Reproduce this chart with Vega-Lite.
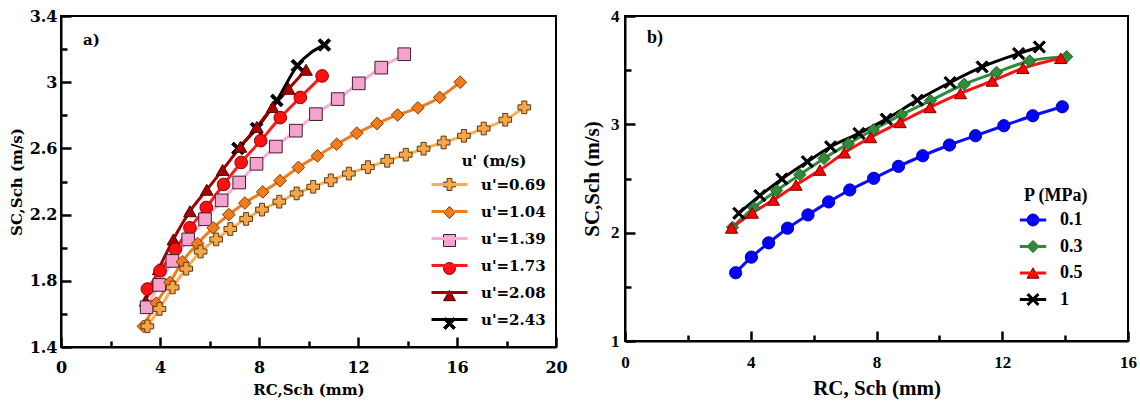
{
  "$schema": "https://vega.github.io/schema/vega-lite/v6.json",
  "background": "white",
  "padding": {"left": 8, "top": 6, "right": 6, "bottom": 4},
  "spacing": 11,
  "config": {
    "view": {"stroke": "black", "strokeWidth": 2},
    "axis": {"domainColor": "black", "domainWidth": 2, "tickColor": "black", "tickWidth": 2.5, "labelColor": "black", "titleColor": "black", "labelFontWeight": "bold", "titleFontWeight": "bold", "grid": false}
  },
  "datasets": {
    "a": [
      {"u": "u'=2.43", "R": 7.15, "S": 2.6}, {"u": "u'=2.43", "R": 7.9, "S": 2.72}, {"u": "u'=2.43", "R": 8.72, "S": 2.89}, {"u": "u'=2.43", "R": 9.55, "S": 3.1}, {"u": "u'=2.43", "R": 10.64, "S": 3.225},
      {"u": "u'=2.08", "R": 3.42, "S": 1.68}, {"u": "u'=2.08", "R": 3.95, "S": 1.87}, {"u": "u'=2.08", "R": 4.54, "S": 2.05}, {"u": "u'=2.08", "R": 5.21, "S": 2.22}, {"u": "u'=2.08", "R": 5.89, "S": 2.35}, {"u": "u'=2.08", "R": 6.53, "S": 2.47}, {"u": "u'=2.08", "R": 7.25, "S": 2.61}, {"u": "u'=2.08", "R": 7.91, "S": 2.73}, {"u": "u'=2.08", "R": 8.55, "S": 2.85}, {"u": "u'=2.08", "R": 9.2, "S": 2.96}, {"u": "u'=2.08", "R": 9.9, "S": 3.075},
      {"u": "u'=1.73", "R": 3.49, "S": 1.75}, {"u": "u'=1.73", "R": 4.0, "S": 1.86}, {"u": "u'=1.73", "R": 4.62, "S": 1.99}, {"u": "u'=1.73", "R": 5.21, "S": 2.12}, {"u": "u'=1.73", "R": 5.87, "S": 2.243}, {"u": "u'=1.73", "R": 6.57, "S": 2.382}, {"u": "u'=1.73", "R": 7.28, "S": 2.515}, {"u": "u'=1.73", "R": 8.07, "S": 2.647}, {"u": "u'=1.73", "R": 8.86, "S": 2.786}, {"u": "u'=1.73", "R": 9.67, "S": 2.908}, {"u": "u'=1.73", "R": 10.55, "S": 3.038},
      {"u": "u'=1.39", "R": 3.46, "S": 1.64}, {"u": "u'=1.39", "R": 3.97, "S": 1.775}, {"u": "u'=1.39", "R": 4.5, "S": 1.92}, {"u": "u'=1.39", "R": 5.14, "S": 2.05}, {"u": "u'=1.39", "R": 5.82, "S": 2.172}, {"u": "u'=1.39", "R": 6.49, "S": 2.286}, {"u": "u'=1.39", "R": 7.2, "S": 2.394}, {"u": "u'=1.39", "R": 7.9, "S": 2.507}, {"u": "u'=1.39", "R": 8.68, "S": 2.611}, {"u": "u'=1.39", "R": 9.49, "S": 2.707}, {"u": "u'=1.39", "R": 10.3, "S": 2.807}, {"u": "u'=1.39", "R": 11.18, "S": 2.898}, {"u": "u'=1.39", "R": 12.03, "S": 2.993}, {"u": "u'=1.39", "R": 12.94, "S": 3.088}, {"u": "u'=1.39", "R": 13.87, "S": 3.169},
      {"u": "u'=1.04", "R": 3.33, "S": 1.525}, {"u": "u'=1.04", "R": 3.85, "S": 1.665}, {"u": "u'=1.04", "R": 4.4, "S": 1.79}, {"u": "u'=1.04", "R": 4.9, "S": 1.915}, {"u": "u'=1.04", "R": 5.52, "S": 2.025}, {"u": "u'=1.04", "R": 6.15, "S": 2.12}, {"u": "u'=1.04", "R": 6.78, "S": 2.2}, {"u": "u'=1.04", "R": 7.43, "S": 2.27}, {"u": "u'=1.04", "R": 8.15, "S": 2.337}, {"u": "u'=1.04", "R": 8.85, "S": 2.405}, {"u": "u'=1.04", "R": 9.59, "S": 2.485}, {"u": "u'=1.04", "R": 10.36, "S": 2.555}, {"u": "u'=1.04", "R": 11.14, "S": 2.625}, {"u": "u'=1.04", "R": 11.95, "S": 2.692}, {"u": "u'=1.04", "R": 12.77, "S": 2.75}, {"u": "u'=1.04", "R": 13.6, "S": 2.802}, {"u": "u'=1.04", "R": 14.42, "S": 2.845}, {"u": "u'=1.04", "R": 15.3, "S": 2.908}, {"u": "u'=1.04", "R": 16.13, "S": 3.0},
      {"u": "u'=0.69", "R": 3.49, "S": 1.525}, {"u": "u'=0.69", "R": 3.98, "S": 1.63}, {"u": "u'=0.69", "R": 4.51, "S": 1.76}, {"u": "u'=0.69", "R": 5.06, "S": 1.873}, {"u": "u'=0.69", "R": 5.64, "S": 1.977}, {"u": "u'=0.69", "R": 6.27, "S": 2.05}, {"u": "u'=0.69", "R": 6.84, "S": 2.113}, {"u": "u'=0.69", "R": 7.48, "S": 2.174}, {"u": "u'=0.69", "R": 8.12, "S": 2.23}, {"u": "u'=0.69", "R": 8.82, "S": 2.278}, {"u": "u'=0.69", "R": 9.52, "S": 2.328}, {"u": "u'=0.69", "R": 10.19, "S": 2.368}, {"u": "u'=0.69", "R": 10.9, "S": 2.407}, {"u": "u'=0.69", "R": 11.63, "S": 2.448}, {"u": "u'=0.69", "R": 12.4, "S": 2.487}, {"u": "u'=0.69", "R": 13.18, "S": 2.525}, {"u": "u'=0.69", "R": 13.93, "S": 2.562}, {"u": "u'=0.69", "R": 14.65, "S": 2.598}, {"u": "u'=0.69", "R": 15.46, "S": 2.636}, {"u": "u'=0.69", "R": 16.28, "S": 2.676}, {"u": "u'=0.69", "R": 17.08, "S": 2.72}, {"u": "u'=0.69", "R": 17.95, "S": 2.773}, {"u": "u'=0.69", "R": 18.72, "S": 2.848}
    ],
    "b": [
      {"P": "0.3", "R": 3.42, "S": 2.05}, {"P": "0.3", "R": 4.1, "S": 2.23}, {"P": "0.3", "R": 4.82, "S": 2.39}, {"P": "0.3", "R": 5.56, "S": 2.535}, {"P": "0.3", "R": 6.33, "S": 2.685}, {"P": "0.3", "R": 7.1, "S": 2.82}, {"P": "0.3", "R": 7.9, "S": 2.95}, {"P": "0.3", "R": 8.8, "S": 3.09}, {"P": "0.3", "R": 9.72, "S": 3.22}, {"P": "0.3", "R": 10.79, "S": 3.37}, {"P": "0.3", "R": 11.82, "S": 3.48}, {"P": "0.3", "R": 12.87, "S": 3.585}, {"P": "0.3", "R": 14.05, "S": 3.625},
      {"P": "0.5", "R": 3.39, "S": 2.044}, {"P": "0.5", "R": 4.05, "S": 2.182}, {"P": "0.5", "R": 4.72, "S": 2.302}, {"P": "0.5", "R": 5.44, "S": 2.44}, {"P": "0.5", "R": 6.2, "S": 2.578}, {"P": "0.5", "R": 6.98, "S": 2.738}, {"P": "0.5", "R": 7.81, "S": 2.879}, {"P": "0.5", "R": 8.75, "S": 3.018}, {"P": "0.5", "R": 9.7, "S": 3.156}, {"P": "0.5", "R": 10.67, "S": 3.285}, {"P": "0.5", "R": 11.68, "S": 3.401}, {"P": "0.5", "R": 12.66, "S": 3.518}, {"P": "0.5", "R": 13.86, "S": 3.61},
      {"P": "1", "R": 3.62, "S": 2.179}, {"P": "1", "R": 4.29, "S": 2.342}, {"P": "1", "R": 4.99, "S": 2.496}, {"P": "1", "R": 5.8, "S": 2.655}, {"P": "1", "R": 6.54, "S": 2.793}, {"P": "1", "R": 7.44, "S": 2.916}, {"P": "1", "R": 8.31, "S": 3.048}, {"P": "1", "R": 9.3, "S": 3.223}, {"P": "1", "R": 10.34, "S": 3.386}, {"P": "1", "R": 11.36, "S": 3.53}, {"P": "1", "R": 12.52, "S": 3.653}, {"P": "1", "R": 13.18, "S": 3.714},
      {"P": "0.1", "R": 3.52, "S": 1.63}, {"P": "0.1", "R": 4.02, "S": 1.774}, {"P": "0.1", "R": 4.57, "S": 1.906}, {"P": "0.1", "R": 5.17, "S": 2.041}, {"P": "0.1", "R": 5.82, "S": 2.164}, {"P": "0.1", "R": 6.48, "S": 2.284}, {"P": "0.1", "R": 7.15, "S": 2.394}, {"P": "0.1", "R": 7.91, "S": 2.502}, {"P": "0.1", "R": 8.7, "S": 2.612}, {"P": "0.1", "R": 9.47, "S": 2.71}, {"P": "0.1", "R": 10.32, "S": 2.809}, {"P": "0.1", "R": 11.15, "S": 2.895}, {"P": "0.1", "R": 12.05, "S": 2.987}, {"P": "0.1", "R": 12.97, "S": 3.079}, {"P": "0.1", "R": 13.91, "S": 3.162}
    ]
  },
  "hconcat": [
    {
      "width": 495,
      "height": 331,
      "data": {"name": "a"},
      "title": {"text": "a)", "anchor": "start", "frame": "group", "offset": -40, "dx": 22, "font": "DejaVu Serif", "fontSize": 15, "fontWeight": "bold", "color": "black"},
      "encoding": {
        "x": {"field": "R", "type": "quantitative", "scale": {"domain": [0, 20], "nice": false, "zero": false},
          "axis": {"title": "RC,Sch  (mm)", "values": [0, 2, 4, 6, 8, 10, 12, 14, 16, 18, 20], "labelExpr": "datum.value % 4 == 0 ? datum.label : ''", "tickSize": {"condition": {"test": "datum.value % 4 == 0", "value": -10}, "value": -6}, "labelPadding": 22, "labelFont": "DejaVu Serif", "labelFontSize": 16, "titleFont": "DejaVu Serif", "titleFontSize": 15, "titlePadding": 3, "labelFlush": false, "labelOverlap": false}},
        "y": {"field": "S", "type": "quantitative", "scale": {"domain": [1.4, 3.4], "nice": false, "zero": false},
          "axis": {"title": "SC,Sch (m/s)", "values": [1.4, 1.6, 1.8, 2.0, 2.2, 2.4, 2.6, 2.8, 3.0, 3.2, 3.4], "labelExpr": "round(datum.value*10) % 4 == 2 ? format(datum.value, '') : ''", "tickSize": {"condition": {"test": "round(datum.value*10) % 4 == 2", "value": -10}, "value": -6}, "labelPadding": 14, "labelFont": "DejaVu Serif", "labelFontSize": 16, "titleFont": "DejaVu Serif", "titleFontSize": 15, "titlePadding": 5, "labelFlush": false, "labelOverlap": false}}
      },
      "layer": [
        {
          "mark": {"type": "line", "strokeWidth": 3, "interpolate": "monotone"},
          "encoding": {
            "color": {"field": "u", "type": "nominal",
              "scale": {"domain": ["u'=0.69", "u'=1.04", "u'=1.39", "u'=1.73", "u'=2.08", "u'=2.43"], "range": ["#F9AE55", "#F07C1E", "#F7AED2", "#FF1A1A", "#A00000", "#000000"]},
              "legend": {"title": "u' (m/s)", "orient": "none", "legendX": 381, "legendY": 138, "padding": 0, "symbolType": "M-3,0L3,0", "symbolSize": 144, "symbolStrokeWidth": 3, "labelOffset": 24, "rowPadding": 11, "titlePadding": 8, "titleAnchor": "middle", "labelFont": "DejaVu Serif", "labelFontWeight": "bold", "labelFontSize": 15, "labelColor": "black", "titleFont": "DejaVu Serif", "titleFontWeight": "bold", "titleFontSize": 15, "titleColor": "black"}}
          }
        },
        {
          "mark": {"type": "point", "filled": true, "size": 160, "strokeWidth": 1, "opacity": 1},
          "encoding": {
            "shape": {"field": "u", "type": "nominal", "scale": {"range": ["cross", "diamond", "square", "circle", "triangle-up", "M-1,-0.65L-0.65,-1L0,-0.35L0.65,-1L1,-0.65L0.35,0L1,0.65L0.65,1L0,0.35L-0.65,1L-1,0.65L-0.35,0Z"]},
              "legend": {"title": " ", "orient": "none", "legendX": 381, "legendY": 138, "padding": 0, "symbolSize": 144, "symbolStrokeWidth": 1, "labelOffset": 24, "rowPadding": 11, "titlePadding": 8, "titleAnchor": "middle", "labelFont": "DejaVu Serif", "labelFontWeight": "bold", "labelFontSize": 15, "labelExpr": "''", "titleFont": "DejaVu Serif", "titleFontWeight": "bold", "titleFontSize": 15}},
            "fill": {"field": "u", "type": "nominal", "scale": {"range": ["#F7A54A", "#F07C1E", "#F5A3CC", "#FF1010", "#A80000", "#000000"]}},
            "stroke": {"field": "u", "type": "nominal", "scale": {"range": ["#5C3A10", "#8A3C00", "#3A2030", "#900000", "#500000", "#000000"]}}
          }
        }
      ],
      "resolve": {"legend": {"color": "independent"}}
    },
    {
      "width": 503,
      "height": 325,
      "data": {"name": "b"},
      "title": {"text": "b)", "anchor": "start", "frame": "group", "offset": -40, "dx": 22, "font": "Liberation Serif", "fontSize": 18, "fontWeight": "bold", "color": "black"},
      "encoding": {
        "x": {"field": "R", "type": "quantitative", "scale": {"domain": [0, 16], "nice": false, "zero": false},
          "axis": {"title": "RC, Sch (mm)", "values": [0, 2, 4, 6, 8, 10, 12, 14, 16], "labelExpr": "datum.value % 4 == 0 ? datum.label : ''", "tickSize": {"condition": {"test": "datum.value % 4 == 0", "value": -10}, "value": -6}, "labelPadding": 23, "labelFont": "Liberation Serif", "labelFontSize": 17, "titleFont": "Liberation Serif", "titleFontSize": 21, "titlePadding": 3, "labelFlush": false, "labelOverlap": false}},
        "y": {"field": "S", "type": "quantitative", "scale": {"domain": [1, 4], "nice": false, "zero": false},
          "axis": {"title": "SC,Sch (m/s)", "values": [1, 1.5, 2, 2.5, 3, 3.5, 4], "labelExpr": "datum.value % 1 == 0 ? format(datum.value, '') : ''", "tickSize": {"condition": {"test": "datum.value % 1 == 0", "value": -10}, "value": -6}, "labelPadding": 16, "labelFont": "Liberation Serif", "labelFontSize": 17, "titleFont": "Liberation Serif", "titleFontSize": 21, "titlePadding": 8, "labelFlush": false, "labelOverlap": false}}
      },
      "layer": [
        {
          "mark": {"type": "line", "strokeWidth": 3, "interpolate": "monotone"},
          "encoding": {
            "color": {"field": "P", "type": "nominal",
              "scale": {"domain": ["0.1", "0.3", "0.5", "1"], "range": ["#0A0AFF", "#2E8B3A", "#FF1010", "#000000"]},
              "legend": {"title": "P (MPa)", "orient": "none", "legendX": 399, "legendY": 171, "padding": 0, "symbolType": "M-2.2,0L2.2,0", "symbolSize": 144, "symbolStrokeWidth": 3, "labelOffset": 18, "rowPadding": 8.5, "titlePadding": 6, "titleAnchor": "start", "labelFont": "Liberation Serif", "labelFontWeight": "bold", "labelFontSize": 18, "labelColor": "black", "titleFont": "Liberation Serif", "titleFontWeight": "bold", "titleFontSize": 18, "titleColor": "black"}}
          }
        },
        {
          "mark": {"type": "point", "filled": true, "size": 150, "strokeWidth": 1, "opacity": 1},
          "encoding": {
            "shape": {"field": "P", "type": "nominal", "scale": {"range": ["circle", "diamond", "triangle-up", "M-1,-0.72L-0.72,-1L0,-0.28L0.72,-1L1,-0.72L0.28,0L1,0.72L0.72,1L0,0.28L-0.72,1L-1,0.72L-0.28,0Z"]},
              "legend": {"title": " ", "orient": "none", "legendX": 399, "legendY": 171, "padding": 0, "symbolSize": 144, "symbolStrokeWidth": 1, "labelOffset": 18, "rowPadding": 8.5, "titlePadding": 6, "titleAnchor": "start", "labelFont": "Liberation Serif", "labelFontWeight": "bold", "labelFontSize": 18, "labelExpr": "''", "titleFont": "Liberation Serif", "titleFontWeight": "bold", "titleFontSize": 18}},
            "fill": {"field": "P", "type": "nominal", "scale": {"range": ["#0000FF", "#2E8B3A", "#FF0000", "#000000"]}},
            "stroke": {"field": "P", "type": "nominal", "scale": {"range": ["#0000B0", "#1E5E28", "#7A0000", "#000000"]}}
          }
        }
      ],
      "resolve": {"legend": {"color": "independent"}}
    }
  ],
  "resolve": {
    "scale": {"x": "independent", "y": "independent", "color": "independent", "fill": "independent", "stroke": "independent", "shape": "independent"},
    "legend": {"color": "independent", "fill": "independent", "stroke": "independent", "shape": "independent"},
    "axis": {"x": "independent", "y": "independent"}
  }
}
